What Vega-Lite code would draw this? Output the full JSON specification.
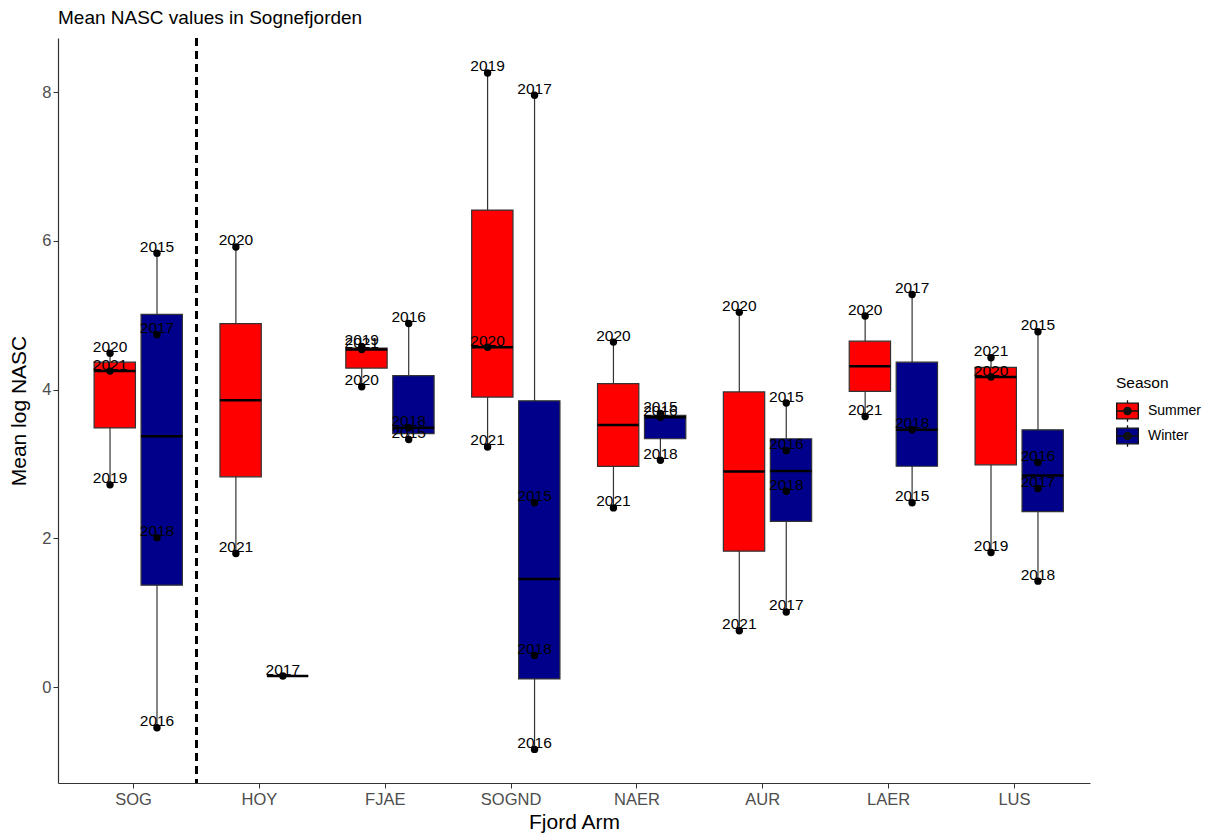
{
  "$schema": "https://vega.github.io/schema/vega-lite/v6.json",
  "autosize": "none",
  "width": 1032,
  "height": 745,
  "padding": {"left": 58, "top": 38, "right": 118, "bottom": 56},
  "background": "white",
  "config": {
    "view": {"stroke": null},
    "font": "Liberation Sans",
    "axis": {"grid": false, "domain": true, "domainWidth": 1.2, "domainColor": "#333333", "tickColor": "#333333", "labelColor": "#4D4D4D", "labelFontSize": 16.5, "titleFontSize": 21, "titleFontWeight": "normal", "titleColor": "black", "tickSize": 5}
  },
  "title": {"text": "Mean NASC values in Sognefjorden", "anchor": "start", "frame": "group", "fontSize": 19, "fontWeight": "normal", "color": "black", "offset": 9},
  "data": {
    "values": [
      {"arm": "SOG", "season": "Summer", "year": "2019", "nasc": 2.72},
      {"arm": "SOG", "season": "Summer", "year": "2020", "nasc": 4.49},
      {"arm": "SOG", "season": "Summer", "year": "2021", "nasc": 4.25},
      {"arm": "SOG", "season": "Winter", "year": "2015", "nasc": 5.835},
      {"arm": "SOG", "season": "Winter", "year": "2016", "nasc": -0.547},
      {"arm": "SOG", "season": "Winter", "year": "2017", "nasc": 4.74},
      {"arm": "SOG", "season": "Winter", "year": "2018", "nasc": 2.01},
      {"arm": "HOY", "season": "Summer", "year": "2020", "nasc": 5.92},
      {"arm": "HOY", "season": "Summer", "year": "2021", "nasc": 1.797},
      {"arm": "HOY", "season": "Winter", "year": "2017", "nasc": 0.148},
      {"arm": "FJAE", "season": "Summer", "year": "2019", "nasc": 4.58},
      {"arm": "FJAE", "season": "Summer", "year": "2020", "nasc": 4.04},
      {"arm": "FJAE", "season": "Summer", "year": "2021", "nasc": 4.54},
      {"arm": "FJAE", "season": "Winter", "year": "2015", "nasc": 3.33},
      {"arm": "FJAE", "season": "Winter", "year": "2016", "nasc": 4.89},
      {"arm": "FJAE", "season": "Winter", "year": "2018", "nasc": 3.487},
      {"arm": "SOGND", "season": "Summer", "year": "2019", "nasc": 8.26},
      {"arm": "SOGND", "season": "Summer", "year": "2020", "nasc": 4.57},
      {"arm": "SOGND", "season": "Summer", "year": "2021", "nasc": 3.23},
      {"arm": "SOGND", "season": "Winter", "year": "2015", "nasc": 2.48},
      {"arm": "SOGND", "season": "Winter", "year": "2016", "nasc": -0.838},
      {"arm": "SOGND", "season": "Winter", "year": "2017", "nasc": 7.96},
      {"arm": "SOGND", "season": "Winter", "year": "2018", "nasc": 0.426},
      {"arm": "NAER", "season": "Summer", "year": "2020", "nasc": 4.64},
      {"arm": "NAER", "season": "Summer", "year": "2021", "nasc": 2.41},
      {"arm": "NAER", "season": "Winter", "year": "2015", "nasc": 3.68},
      {"arm": "NAER", "season": "Winter", "year": "2016", "nasc": 3.63},
      {"arm": "NAER", "season": "Winter", "year": "2018", "nasc": 3.05},
      {"arm": "AUR", "season": "Summer", "year": "2020", "nasc": 5.04},
      {"arm": "AUR", "season": "Summer", "year": "2021", "nasc": 0.757},
      {"arm": "AUR", "season": "Winter", "year": "2015", "nasc": 3.82},
      {"arm": "AUR", "season": "Winter", "year": "2016", "nasc": 3.18},
      {"arm": "AUR", "season": "Winter", "year": "2017", "nasc": 1.01},
      {"arm": "AUR", "season": "Winter", "year": "2018", "nasc": 2.635},
      {"arm": "LAER", "season": "Summer", "year": "2020", "nasc": 4.99},
      {"arm": "LAER", "season": "Summer", "year": "2021", "nasc": 3.64},
      {"arm": "LAER", "season": "Winter", "year": "2015", "nasc": 2.48},
      {"arm": "LAER", "season": "Winter", "year": "2017", "nasc": 5.28},
      {"arm": "LAER", "season": "Winter", "year": "2018", "nasc": 3.46},
      {"arm": "LUS", "season": "Summer", "year": "2019", "nasc": 1.81},
      {"arm": "LUS", "season": "Summer", "year": "2020", "nasc": 4.17},
      {"arm": "LUS", "season": "Summer", "year": "2021", "nasc": 4.43},
      {"arm": "LUS", "season": "Winter", "year": "2015", "nasc": 4.78},
      {"arm": "LUS", "season": "Winter", "year": "2016", "nasc": 3.02},
      {"arm": "LUS", "season": "Winter", "year": "2017", "nasc": 2.67},
      {"arm": "LUS", "season": "Winter", "year": "2018", "nasc": 1.425}
    ]
  },
  "encoding": {
    "x": {
      "field": "arm", "type": "nominal",
      "sort": ["SOG", "HOY", "FJAE", "SOGND", "NAER", "AUR", "LAER", "LUS"],
      "scale": {"paddingInner": 0, "paddingOuter": 0.1},
      "axis": {"title": "Fjord Arm", "labelAngle": 0, "labelPadding": 3, "titlePadding": 4}
    },
    "xOffset": {
      "field": "season", "type": "nominal",
      "scale": {"domain": ["Summer", "Winter"], "paddingInner": 0, "paddingOuter": 0.34}
    },
    "y": {
      "field": "nasc", "type": "quantitative",
      "scale": {"domain": [-1.29, 8.73], "nice": false, "zero": false},
      "axis": {"title": "Mean log NASC", "values": [0, 2, 4, 6, 8], "format": "d", "titlePadding": 12, "domain": true}
    }
  },
  "layer": [
    {
      "transform": [
        {"aggregate": [
          {"op": "min", "field": "nasc", "as": "lo"},
          {"op": "q1", "field": "nasc", "as": "q1"},
          {"op": "median", "field": "nasc", "as": "mid"},
          {"op": "q3", "field": "nasc", "as": "q3"},
          {"op": "max", "field": "nasc", "as": "hi"}
        ], "groupby": ["arm", "season"]}
      ],
      "layer": [
        {
          "mark": {"type": "rule", "color": "#333333", "strokeWidth": 1.2},
          "encoding": {
            "y": {"field": "lo", "type": "quantitative"},
            "y2": {"field": "hi"}
          }
        },
        {
          "mark": {"type": "bar", "stroke": "#333333", "strokeWidth": 1.2, "width": {"band": 0.88}},
          "encoding": {
            "y": {"field": "q1", "type": "quantitative"},
            "y2": {"field": "q3"},
            "fill": {
              "field": "season", "type": "nominal",
              "scale": {"domain": ["Summer", "Winter"], "range": ["#FF0000", "#00008B"]},
              "legend": {
                "title": "Season", "orient": "none", "legendX": 1058, "legendY": 338,
                "titleFontSize": 15.5, "titleFontWeight": "normal", "titleColor": "black",
                "labelFontSize": 14, "labelColor": "black", "labelOffset": 9,
                "symbolType": "M-1,-0.72H1V0.72H-1Z M-1,0H1 M0,-1V-0.72 M0,0.72V1 M0.06,0A0.06,0.06 0 1 1 -0.06,0A0.06,0.06 0 1 1 0.06,0 M0.16,0A0.16,0.16 0 1 1 -0.16,0A0.16,0.16 0 1 1 0.16,0 M0.26,0A0.26,0.26 0 1 1 -0.26,0A0.26,0.26 0 1 1 0.26,0 M0.34,0A0.34,0.34 0 1 1 -0.34,0A0.34,0.34 0 1 1 0.34,0",
                "symbolSize": 470, "symbolStrokeColor": "#111111", "symbolStrokeWidth": 1.3,
                "rowPadding": -4, "titlePadding": 8
              }
            }
          }
        },
        {
          "mark": {"type": "bar", "stroke": "black", "strokeWidth": 2.5, "fillOpacity": 0, "width": {"band": 0.88}},
          "encoding": {
            "y": {"field": "mid", "type": "quantitative"},
            "y2": {"field": "mid"}
          }
        }
      ]
    },
    {
      "mark": {"type": "point", "filled": true, "color": "black", "opacity": 1, "size": 55}
    },
    {
      "mark": {"type": "text", "fontSize": 15.5, "color": "black", "baseline": "alphabetic", "dy": -1.5},
      "encoding": {
        "text": {"field": "year"}
      }
    },
    {
      "mark": {"type": "rule", "strokeDash": [8, 5], "strokeWidth": 2, "color": "black"},
      "encoding": {"x": {"datum": "HOY", "bandPosition": 0}, "xOffset": {"value": 0}, "y": {"value": 0}, "y2": {"value": 745}}
    }
  ]
}
